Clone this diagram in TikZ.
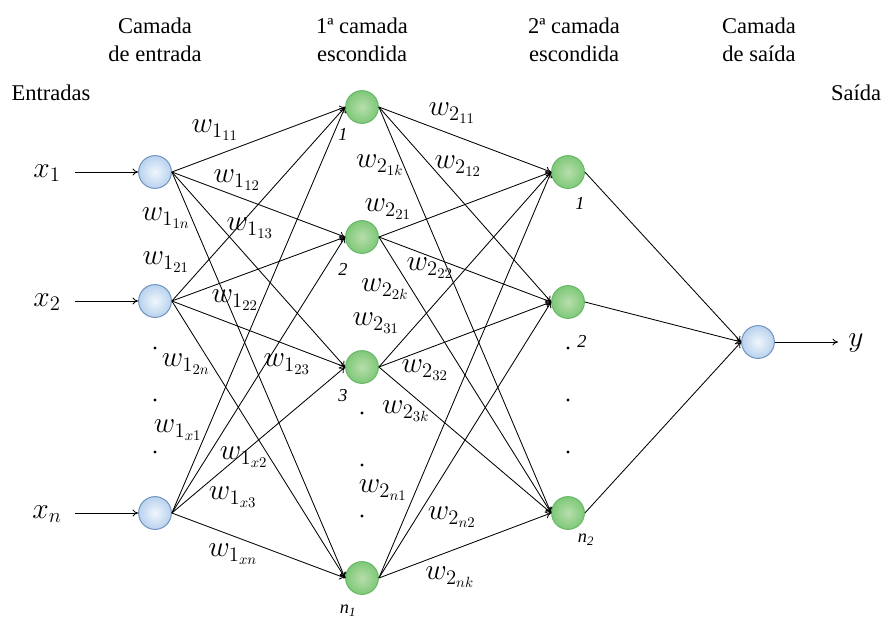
\documentclass[tikz,border=0pt]{standalone}
\usepackage{fix-cm}
\usepackage{fontspec}
\setmainfont{Liberation Serif}
\newfontfamily\timesfont{Liberation Serif}
\usetikzlibrary{arrows.meta}
\definecolor{bluerim}{RGB}{112,146,190}
\definecolor{bluecore}{RGB}{240,246,252}
\definecolor{blueedge}{RGB}{184,210,238}
\definecolor{greenrim}{RGB}{104,184,104}
\definecolor{greencore}{RGB}{184,222,172}
\definecolor{greenedge}{RGB}{126,200,120}

\begin{document}
\begin{tikzpicture}[x=0.025cm, y=-0.025cm,
		neuronin/.style={circle, draw=bluerim, line width=0.7pt, inner color=bluecore, outer color=blueedge, minimum size=0.82cm, inner sep=0pt},
		neuronhid/.style={circle, draw=greenrim, line width=0.7pt, inner color=greencore, outer color=greenedge, minimum size=0.82cm, inner sep=0pt},
		syn/.style={-{To[length=4pt,width=5pt]}, line width=0.6pt},
		wlab/.style={font=\fontsize{21}{24}\selectfont},
		numlab/.style={font=\timesfont\fontsize{13}{15}\selectfont\itshape},
		header/.style={align=center, font=\timesfont\fontsize{16}{20}\selectfont}]
		%%%%% START %%%%%
		\useasboundingbox (0, 0) rectangle (884, 621);
		
		% titulos
		\node[header] (tin) at (155, 40) {Camada\\de entrada};
		\node[header] (th1) at (362, 40) {1ª camada\\escondida};
		\node[header] (th2) at (574, 40) {2ª camada\\escondida};
		\node[header] (tout) at (759, 40) {Camada\\de saída};
		\node[header, anchor=base] (tent) at (51, 100) {Entradas};
		\node[header, anchor=base] (tsai) at (856, 100) {Saída};
		
		% neuronios
		\node[neuronin] (in1) at (155, 172) {};
		\node[neuronin] (in2) at (155, 301) {};
		\node[neuronin] (inn) at (155, 513) {};
		
		\node[neuronhid] (h1) at (362, 107) {};
		\node[neuronhid] (h2) at (362, 237) {};
		\node[neuronhid] (h3) at (362, 367) {};
		\node[neuronhid] (hn) at (362, 578) {};
		
		\node[neuronhid] (o1) at (568, 172) {};
		\node[neuronhid] (o2) at (568, 302) {};
		\node[neuronhid] (on) at (568, 513) {};
		
		\node[neuronin] (out) at (758, 342) {};
		
		% entradas e saida
		\node[wlab] (lx1) at (47, 173) {$x_1$};
		\node[wlab] (lx2) at (47, 302) {$x_2$};
		\node[wlab] (lxn) at (47, 514) {$x_n$};
		\node[wlab] (ly) at (856, 343) {$y$};
		\coordinate (a1) at (75, 172);
		\coordinate (a2) at (75, 301);
		\coordinate (an) at (75, 513);
		\coordinate (ay) at (838, 342);
		\draw[syn] (a1) -- (in1.west);
		\draw[syn] (a2) -- (in2.west);
		\draw[syn] (an) -- (inn.west);
		\draw[syn] (out.east) -- (ay);
		
		% camada de entrada -> 1a camada
		\draw[syn] (in1.east) -- (h1.west);
		\draw[syn] (in1.east) -- (h2.west);
		\draw[syn] (in1.east) -- (h3.west);
		\draw[syn] (in1.east) -- (hn.west);
		\draw[syn] (in2.east) -- (h1.west);
		\draw[syn] (in2.east) -- (h2.west);
		\draw[syn] (in2.east) -- (h3.west);
		\draw[syn] (in2.east) -- (hn.west);
		\draw[syn] (inn.east) -- (h1.west);
		\draw[syn] (inn.east) -- (h2.west);
		\draw[syn] (inn.east) -- (h3.west);
		\draw[syn] (inn.east) -- (hn.west);
		
		% 1a camada -> 2a camada
		\draw[syn] (h1.east) -- (o1.west);
		\draw[syn] (h1.east) -- (o2.west);
		\draw[syn] (h1.east) -- (on.west);
		\draw[syn] (h2.east) -- (o1.west);
		\draw[syn] (h2.east) -- (o2.west);
		\draw[syn] (h2.east) -- (on.west);
		\draw[syn] (h3.east) -- (o1.west);
		\draw[syn] (h3.east) -- (o2.west);
		\draw[syn] (h3.east) -- (on.west);
		\draw[syn] (hn.east) -- (o1.west);
		\draw[syn] (hn.east) -- (o2.west);
		\draw[syn] (hn.east) -- (on.west);
		
		% 2a camada -> saida
		\draw[syn] (o1.east) -- (out.west);
		\draw[syn] (o2.east) -- (out.west);
		\draw[syn] (on.east) -- (out.west);
		
		% pesos
		\node[wlab] (w111) at (215, 130) {$w_{1_{11}}$};
		\node[wlab] (w112) at (237, 180) {$w_{1_{12}}$};
		\node[wlab] (w11n) at (166, 218) {$w_{1_{1n}}$};
		\node[wlab] (w113) at (250, 228) {$w_{1_{13}}$};
		\node[wlab] (w121) at (166, 262) {$w_{1_{21}}$};
		\node[wlab] (w122) at (235, 300) {$w_{1_{22}}$};
		\node[wlab] (w12n) at (186, 364) {$w_{1_{2n}}$};
		\node[wlab] (w123) at (287, 364) {$w_{1_{23}}$};
		\node[wlab] (w1x1) at (178, 430) {$w_{1_{x1}}$};
		\node[wlab] (w1x2) at (244, 457) {$w_{1_{x2}}$};
		\node[wlab] (w1x3) at (233, 497) {$w_{1_{x3}}$};
		\node[wlab] (w1xn) at (233, 554) {$w_{1_{xn}}$};
		
		\node[wlab] (w211) at (452, 113) {$w_{2_{11}}$};
		\node[wlab] (w21k) at (380, 165) {$w_{2_{1k}}$};
		\node[wlab] (w212) at (458, 166) {$w_{2_{12}}$};
		\node[wlab] (w221) at (388, 209) {$w_{2_{21}}$};
		\node[wlab] (w222) at (430, 268) {$w_{2_{22}}$};
		\node[wlab] (w22k) at (385, 289) {$w_{2_{2k}}$};
		\node[wlab] (w231) at (376, 323) {$w_{2_{31}}$};
		\node[wlab] (w232) at (425, 370) {$w_{2_{32}}$};
		\node[wlab] (w23k) at (406, 411) {$w_{2_{3k}}$};
		\node[wlab] (w2n1) at (383, 490) {$w_{2_{n1}}$};
		\node[wlab] (w2n2) at (452, 517) {$w_{2_{n2}}$};
		\node[wlab] (w2nk) at (450, 577) {$w_{2_{nk}}$};
		
		% numeros dos neuronios
		\node[numlab] (n1) at (343, 134) {1};
		\node[numlab] (n2) at (343, 269) {2};
		\node[numlab] (n3) at (343, 396) {3};
		\node[numlab] (nn1) at (348, 611) {n\textsubscript{1}};
		\node[numlab] (m1) at (580, 203) {1};
		\node[numlab] (m2) at (582, 341) {2};
		\node[numlab] (mn2) at (586, 540) {n\textsubscript{2}};
		
		% reticencias
		\fill (155, 348) circle (1.2pt);
		\fill (155, 400) circle (1.2pt);
		\fill (155, 452) circle (1.2pt);
		\fill (362, 413) circle (1.2pt);
		\fill (362, 465) circle (1.2pt);
		\fill (362, 516) circle (1.2pt);
		\fill (568, 348) circle (1.2pt);
		\fill (568, 400) circle (1.2pt);
		\fill (568, 452) circle (1.2pt);
		%%%%% END %%%%%
	\end{tikzpicture}
\end{document}
